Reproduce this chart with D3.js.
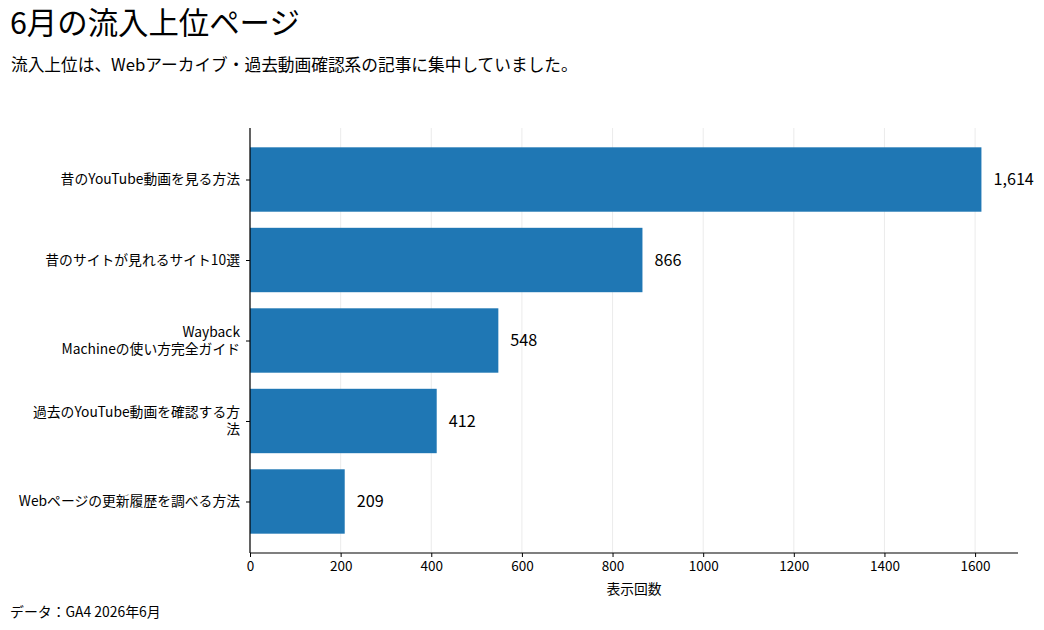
<!DOCTYPE html>
<html lang="ja">
<head>
<meta charset="utf-8">
<title>6月の流入上位ページ</title>
<script src="https://d3js.org/d3.v7.min.js"></script>
<style>
  body { margin: 0; background: #fff; }
  text { font-family: "Noto Sans CJK JP", "Noto Sans", sans-serif; fill: #000; }
</style>
</head>
<body>
<script>
// data
var pages = [
  ["昔のYouTube動画を見る方法"],
  ["昔のサイトが見れるサイト10選"],
  ["Wayback", "Machineの使い方完全ガイド"],
  ["過去のYouTube動画を確認する方", "法"],
  ["Webページの更新履歴を調べる方法"]
];
var views = [1614, 866, 548, 412, 209];
var xTicks = [0, 200, 400, 600, 800, 1000, 1200, 1400, 1600];

var w = 1044, h = 630;
// note: "top" clashes with window.top, so use plot* names
var plotL = 250, plotR = 1018, plotT = 128, plotB = 553;

var svg = d3.select("body").append("svg")
  .attr("width", w)
  .attr("height", h);

var x = d3.scaleLinear()
  .domain([0, d3.max(views) * 1.05])
  .range([plotL, plotR]);

// matplotlib-like: bars at 0..4, height 0.8, 5% margins
var y = d3.scaleLinear()
  .domain([-0.64, 4.64])
  .range([plotT, plotB]);
var barH = y(0.8) - y(0);

// grid
svg.append("g").selectAll("line")
  .data(xTicks)
  .enter().append("line")
  .attr("x1", function(d) { return x(d); })
  .attr("x2", function(d) { return x(d); })
  .attr("y1", plotT)
  .attr("y2", plotB)
  .attr("stroke", "#e6e6e6")
  .attr("stroke-width", 0.8);

// bars
svg.append("g").selectAll("rect")
  .data(views)
  .enter().append("rect")
  .attr("x", x(0))
  .attr("y", function(d, i) { return y(i) - barH / 2; })
  .attr("width", function(d) { return x(d) - x(0); })
  .attr("height", barH)
  .attr("fill", "#1f77b4");

// value labels
svg.append("g").selectAll("text")
  .data(views)
  .enter().append("text")
  .attr("x", function(d) { return x(d) + 12; })
  .attr("y", function(d, i) { return y(i); })
  .attr("dy", "0.35em")
  .attr("font-size", 16.2)
  .text(function(d) { return d3.format(",")(d); });

// x axis
var xAxis = svg.append("g")
  .attr("transform", "translate(0," + plotB + ")")
  .call(d3.axisBottom(x).tickValues(xTicks).tickFormat(d3.format("d")).tickSize(4).tickPadding(4));
xAxis.select(".domain").attr("stroke", "#000").attr("stroke-width", 1.2)
  .attr("d", "M" + plotL + ",0H" + plotR);
xAxis.selectAll(".tick line").attr("stroke", "#000");
xAxis.selectAll(".tick text").attr("font-size", 13.5).attr("font-family", "'Noto Sans CJK JP', sans-serif");

// y axis
var yAxis = svg.append("g")
  .attr("transform", "translate(" + plotL + ",0)")
  .call(d3.axisLeft(y).tickValues(d3.range(pages.length)).tickFormat("").tickSize(4));
yAxis.select(".domain").attr("stroke", "#000").attr("stroke-width", 1.2)
  .attr("d", "M0," + plotT + "V" + plotB);
yAxis.selectAll(".tick line").attr("stroke", "#000");

var lineH = 17;
svg.append("g").selectAll("text")
  .data(pages)
  .enter().append("text")
  .attr("text-anchor", "end")
  .attr("font-size", 13.8)
  .attr("x", plotL - 10)
  .attr("y", function(d, i) { return y(i) - (d.length - 1) * lineH / 2; })
  .each(function(d) {
    var t = d3.select(this);
    d.forEach(function(s, k) {
      t.append("tspan")
        .attr("x", plotL - 10)
        .attr("dy", k === 0 ? "0.35em" : lineH)
        .text(s);
    });
  });

// axis title
svg.append("text")
  .attr("x", (plotL + plotR) / 2)
  .attr("y", 594)
  .attr("text-anchor", "middle")
  .attr("font-size", 13.8)
  .text("表示回数");

// titles
svg.append("text")
  .attr("x", 10)
  .attr("y", 34)
  .attr("font-size", 30.4)
  .text("6月の流入上位ページ");

svg.append("text")
  .attr("x", 11)
  .attr("y", 71)
  .attr("font-size", 16.7)
  .text("流入上位は、Webアーカイブ・過去動画確認系の記事に集中していました。");

svg.append("text")
  .attr("x", 10)
  .attr("y", 617)
  .attr("font-size", 13.9)
  .text("データ：GA4 2026年6月");
</script>
</body>
</html>
